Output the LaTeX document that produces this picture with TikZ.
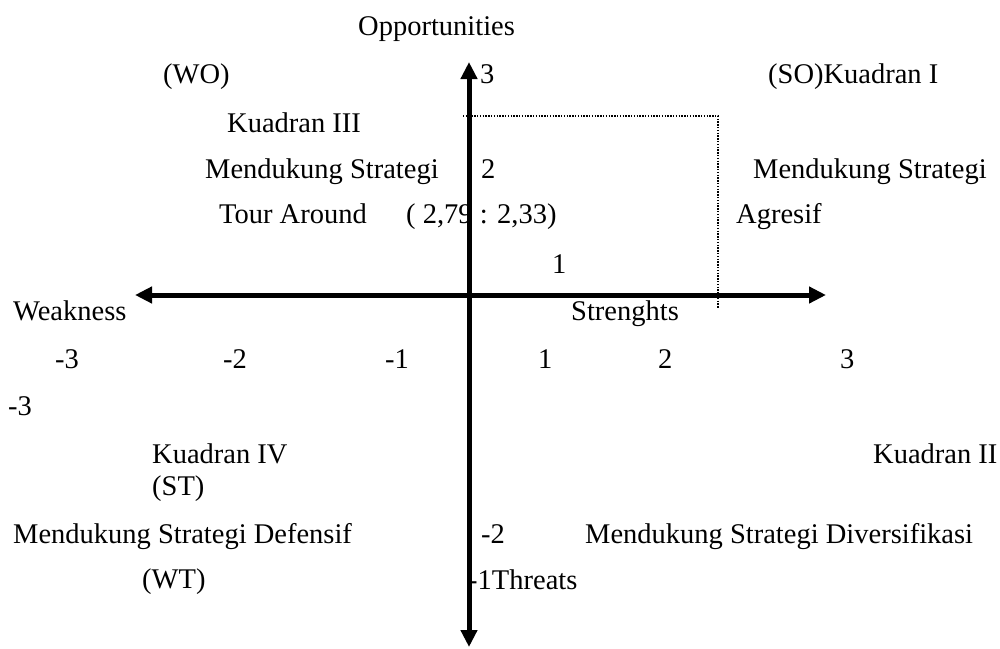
\documentclass[tikz,border=0pt]{standalone}
\usepackage{fontspec}
\setmainfont{Liberation Serif}
\usetikzlibrary{arrows.meta}
\begin{document}
\begin{tikzpicture}[x=1pt,y=-1pt,
  lbl/.style={anchor=base west,inner sep=0pt,font=\fontsize{28.5}{34}\selectfont},
  axis/.style={line width=5pt,{Triangle[length=17pt,width=16pt]}-{Triangle[length=17pt,width=16pt]}},
  guide/.style={line width=1.3pt,dash pattern=on 1.4pt off 1.4pt}]
\useasboundingbox (0,0) rectangle (1000,648);
% dotted guide
\coordinate (g1) at (463,116);
\coordinate (g2) at (718,116);
\coordinate (g3) at (718,308);
\draw[guide] (g1) -- (g2) -- (g3);
% labels
\node[lbl] (opp) at (358,35) {Opportunities};
\node[lbl] (wo) at (163,83) {(WO)};
\node[lbl] (y3) at (480,83) {3};
\node[lbl] (so) at (768,83) {(SO)Kuadran I};
\node[lbl] (k3) at (227,132) {Kuadran III};
\node[lbl] (ms1) at (205,178) {Mendukung Strategi};
\node[lbl] (y2) at (481,178) {2};
\node[lbl] (ms2) at (753,178) {Mendukung Strategi};
\node[lbl] (tour) at (219,223) {Tour Around};
\node[lbl] (pt) at (406,223) {( 2,79 : 2,33)};
\node[lbl] (agr) at (736,223) {Agresif};
\node[lbl] (y1) at (552,273) {1};
\node[lbl] (weak) at (13,320) {Weakness};
\node[lbl] (str) at (571,320) {Strenghts};
\node[lbl] (xm3) at (55,368) {-3};
\node[lbl] (xm2) at (223,368) {-2};
\node[lbl] (xm1) at (385,368) {-1};
\node[lbl] (x1) at (538,368) {1};
\node[lbl] (x2) at (658,368) {2};
\node[lbl] (x3) at (840,368) {3};
\node[lbl] (ym3) at (8,415) {-3};
\node[lbl] (k4) at (152,463) {Kuadran IV};
\node[lbl] (k2) at (873,463) {Kuadran II};
\node[lbl] (st) at (152,495) {(ST)};
\node[lbl] (msd) at (13,543) {Mendukung Strategi Defensif};
\node[lbl] (ym2) at (481,543) {-2};
\node[lbl] (msv) at (585,543) {Mendukung Strategi Diversifikasi};
\node[lbl] (wt) at (142,588) {(WT)};
\node[lbl] (thr) at (468,589) {-1Threats};
% axes (drawn over the text)
\coordinate (xl) at (135,295);
\coordinate (xr) at (826,295);
\coordinate (yt) at (469,62);
\coordinate (yb) at (469,647);
\draw[axis] (xl) -- (xr);
\draw[axis] (yt) -- (yb);
\end{tikzpicture}
\end{document}
